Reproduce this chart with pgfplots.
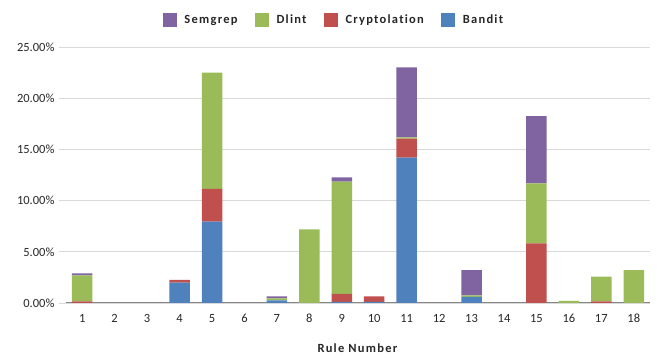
\documentclass[border=0pt]{standalone}
\usepackage{pgfplots}
\pgfplotsset{compat=1.18}
\usepackage{pgfplotstable}
\usepackage{fontspec}
\setmainfont{Carlito}[Numbers=Lining]
\newfontfamily\legfont{Carlito}[LetterSpace=10, Numbers=Lining, Ligatures=NoCommon]

\definecolor{cBandit}{HTML}{4F81BD}
\definecolor{cCrypt}{HTML}{C0504D}
\definecolor{cDlint}{HTML}{9BBB59}
\definecolor{cSemgrep}{HTML}{8064A2}
\definecolor{gridgray}{HTML}{D9D9D9}
\definecolor{basegray}{HTML}{868686}
\definecolor{txt}{HTML}{262626}

% share of findings per rule (percent)
\pgfplotstableread{
rule bandit crypt dlint semgrep
1    0.00   0.15  2.55  0.20
2    0.00   0.00  0.00  0.00
3    0.00   0.00  0.00  0.00
4    2.00   0.25  0.00  0.00
5    7.95   3.20  11.35 0.00
6    0.00   0.00  0.00  0.00
7    0.25   0.00  0.20  0.20
8    0.00   0.00  7.20  0.00
9    0.10   0.80  10.95 0.42
10   0.10   0.55  0.00  0.00
11   14.20  1.85  0.12  6.85
12   0.00   0.00  0.00  0.00
13   0.60   0.00  0.15  2.45
14   0.00   0.00  0.00  0.00
15   0.00   5.83  5.86  6.57
16   0.00   0.00  0.20  0.00
17   0.00   0.15  2.42  0.00
18   0.00   0.00  3.22  0.00
}\rules

\begin{document}
\begin{tikzpicture}
\useasboundingbox (0,0) rectangle (657pt,358pt);
\begin{axis}[
  at={(66pt,55pt)}, anchor=south west,
  scale only axis, width=584pt, height=256pt,
  ybar stacked, bar width=20.5pt,
  xmin=0.5, xmax=18.5, ymin=0, ymax=25,
  xtick={1,...,18},
  ytick={0,5,10,15,20,25},
  yticklabel={\pgfmathprintnumber[fixed,fixed zerofill,precision=2]{\tick}\%},
  /pgf/number format/assume math mode=true,
  ymajorgrids, grid style={gridgray, line width=0.8pt},
  axis x line*=bottom, axis y line*=left,
  x axis line style={basegray, line width=1pt, -},
  y axis line style={draw=none},
  major x tick style={draw=none},
  major y tick style={gridgray, line width=0.8pt},
  tick align=outside, major tick length=7pt,
  tick label style={font=\fontsize{12.5}{14}\selectfont, text=txt},
  yticklabel style={xshift=-1pt},
  xticklabel style={yshift=-1pt, text height=1.6ex, text depth=0pt},
  xlabel={\textbf{Rule Number}},
  xlabel style={font=\fontsize{12.5}{14}\selectfont\legfont, text=txt, yshift=-15pt},
  legend style={at={(0.459,1.105)}, anchor=center, draw=none, fill=none,
    legend columns=4, font=\fontsize{12.5}{14}\selectfont\legfont\bfseries, text=txt,
    /tikz/every even column/.append style={column sep=15.5pt}},
  legend image code/.code={%
    \fill[#1] (0pt,-6.5pt) rectangle (14pt,7pt);
    \path (19.5pt,0pt);},
  reverse legend,
]
\addplot[fill=cBandit, draw=none] table[x=rule, y=bandit] {\rules};
\addplot[fill=cCrypt, draw=none] table[x=rule, y=crypt] {\rules};
\addplot[fill=cDlint, draw=none] table[x=rule, y=dlint] {\rules};
\addplot[fill=cSemgrep, draw=none] table[x=rule, y=semgrep] {\rules};
\legend{Bandit, Cryptolation, Dlint, Semgrep}
\end{axis}
\end{tikzpicture}
\end{document}
